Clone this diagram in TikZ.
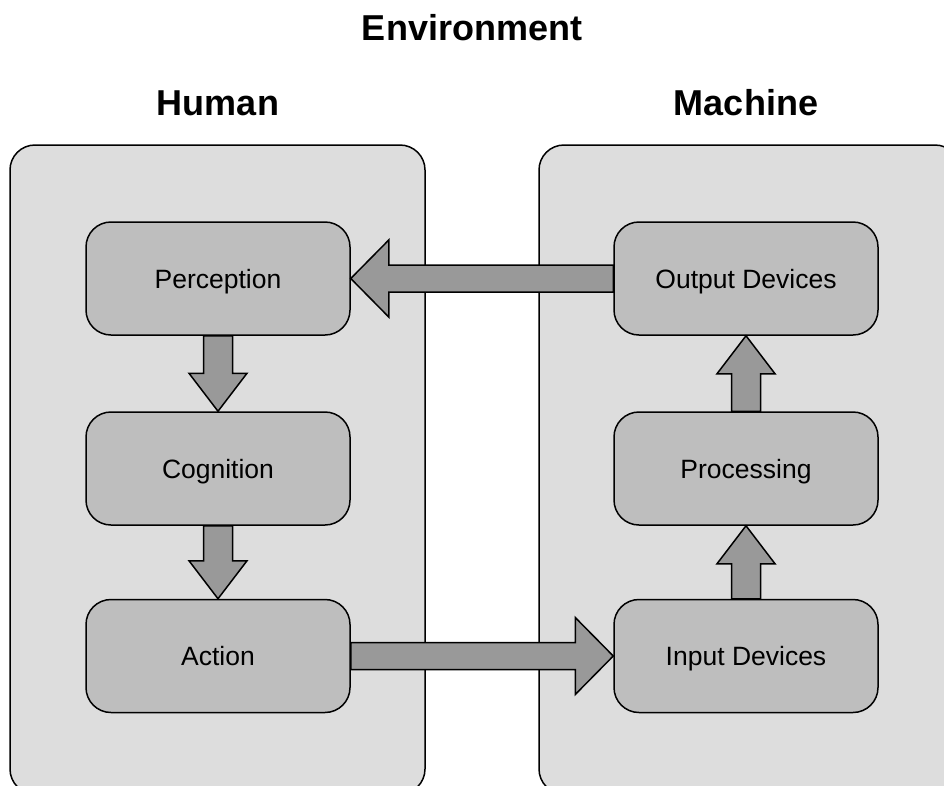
\documentclass[tikz,border=0pt]{standalone}
\usepackage{fontspec}
\setmainfont{Liberation Sans}
\usetikzlibrary{calc}
\definecolor{outerfill}{HTML}{DDDDDD}
\definecolor{innerfill}{HTML}{BEBEBE}
\definecolor{arrowfill}{HTML}{999999}
\tikzset{
  heading/.style={font=\fontsize{36}{40}\selectfont\bfseries},
  group/.style={draw=black, line width=1.5pt, fill=outerfill, rounded corners=25pt},
  stage/.style={draw=black, line width=1.5pt, fill=innerfill, rounded corners=25pt,
    minimum width=264pt, minimum height=113pt, inner sep=0pt,
    text height=19pt, text depth=0pt,
    font=\fontsize{26.5}{30}\selectfont},
  flow/.style={draw=black, line width=1.5pt, fill=arrowfill, line join=miter},
}
\begin{document}
\begin{tikzpicture}[x=1pt, y=-1pt]
\useasboundingbox (0,0) rectangle (944,785);
\clip (0,0) rectangle (944,785);

% titles
\node[heading] (env) at (472,28) {Environment};
\node[heading] (human) at (218,103) {Human};
\node[heading] (machine) at (746,103) {Machine};

% the two sides
\draw[group] (10,145) rectangle (425,794);
\draw[group] (539,145) rectangle (960,794);

% stages
\node[stage] (perc) at (218,278.5) {Perception};
\node[stage] (cogn) at (218,468.5) {Cognition};
\node[stage] (act)  at (218,656) {Action};
\node[stage] (outd) at (746,278.5) {Output Devices};
\node[stage] (proc) at (746,468.5) {Processing};
\node[stage] (inpd) at (746,656) {Input Devices};

% output devices -> perception
\draw[flow] (perc.east) -- ++(38,-38.5) -- ++(0,25)
  -- ($(outd.west)+(0,-13.5)$) -- ($(outd.west)+(0,13.5)$)
  -- ($(perc.east)+(38,13.5)$) -- ++(0,25) -- cycle;

% action -> input devices
\draw[flow] (inpd.west) -- ++(-38,-38.5) -- ++(0,25)
  -- ($(act.east)+(0,-13.5)$) -- ($(act.east)+(0,13.5)$)
  -- ($(inpd.west)+(-38,13.5)$) -- ++(0,25) -- cycle;

% perception -> cognition
\draw[flow] (cogn.north) -- ++(-29,-38) -- ++(14.5,0)
  -- ($(perc.south)+(-14.5,0)$) -- ($(perc.south)+(14.5,0)$)
  -- ($(cogn.north)+(14.5,-38)$) -- ++(14.5,0) -- cycle;

% cognition -> action
\draw[flow] (act.north) -- ++(-29,-38) -- ++(14.5,0)
  -- ($(cogn.south)+(-14.5,0)$) -- ($(cogn.south)+(14.5,0)$)
  -- ($(act.north)+(14.5,-38)$) -- ++(14.5,0) -- cycle;

% input devices -> processing
\draw[flow] (proc.south) -- ++(-29,38) -- ++(14.5,0)
  -- ($(inpd.north)+(-14.5,0)$) -- ($(inpd.north)+(14.5,0)$)
  -- ($(proc.south)+(14.5,38)$) -- ++(14.5,0) -- cycle;

% processing -> output devices
\draw[flow] (outd.south) -- ++(-29,38) -- ++(14.5,0)
  -- ($(proc.north)+(-14.5,0)$) -- ($(proc.north)+(14.5,0)$)
  -- ($(outd.south)+(14.5,38)$) -- ++(14.5,0) -- cycle;
\end{tikzpicture}
\end{document}
